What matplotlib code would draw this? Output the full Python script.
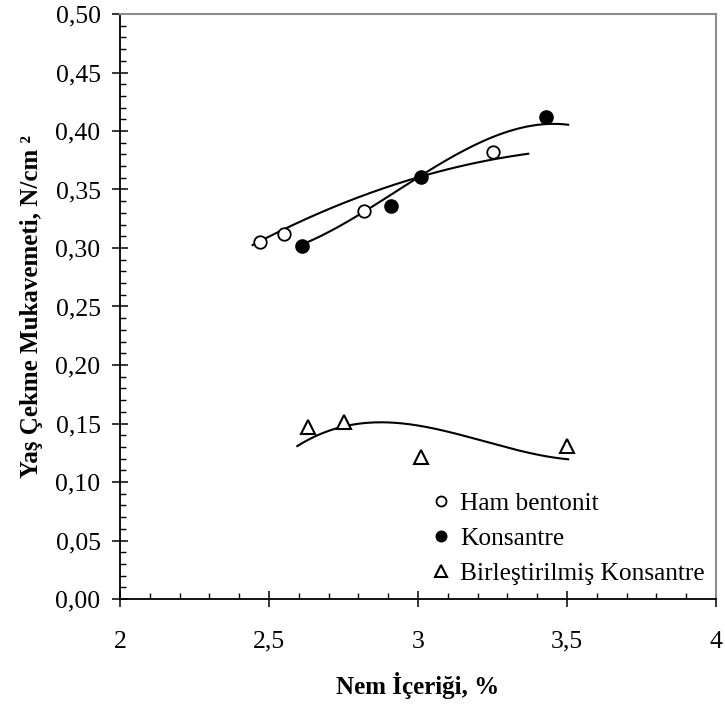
import numpy as np
import matplotlib
matplotlib.use("Agg")
import matplotlib.pyplot as plt
from matplotlib.ticker import MultipleLocator, FuncFormatter

# ---- data ----
ham_x = [2.47, 2.55, 2.82, 3.25]
ham_y = [0.305, 0.312, 0.332, 0.382]
kon_x = [2.61, 2.91, 3.01, 3.43]
kon_y = [0.302, 0.336, 0.361, 0.412]
bir_x = [2.63, 2.75, 3.01, 3.50]
bir_y = [0.147, 0.151, 0.121, 0.131]

# trend-line anchor readings (as seen on the chart)
ham_trend_x = [2.445, 3.00, 3.242, 3.370]
ham_trend_y = [0.3025, 0.3605, 0.375, 0.3807]
kon_trend_x = [2.606, 3.007, 3.242, 3.426, 3.504]
kon_trend_y = [0.3025, 0.3616, 0.3935, 0.4065, 0.405]
bir_trend_x = [2.595, 2.682, 2.817, 3.012, 3.25, 3.504]
bir_trend_y = [0.1296, 0.1432, 0.1518, 0.1447, 0.1347, 0.119]

labels = ["Ham bentonit", "Konsantre", "Birleştirilmiş Konsantre"]
xlabel = "Nem İçeriği, %"
ylabel = "Yaş Çekme Mukavemeti, N/cm ²"

plt.rcParams['font.family'] = ['Liberation Serif', 'DejaVu Serif']

fig = plt.figure(figsize=(7.25, 7.06), dpi=100)
ax = fig.add_axes([120/725, 1-599/706, (716-120)/725, (599-14)/706])

def trend(xs, ys, deg):
    c = np.polyfit(xs, ys, deg)
    xx = np.linspace(min(xs), max(xs), 200)
    return xx, np.polyval(c, xx)

for tx, ty, deg in [(ham_trend_x, ham_trend_y, 2), (kon_trend_x, kon_trend_y, 3),
                    (bir_trend_x, bir_trend_y, 3)]:
    xx, yy = trend(tx, ty, deg)
    ax.plot(xx, yy, color='black', lw=1.5, zorder=2)

ax.plot(ham_x, ham_y, 'o', ms=9, mfc='white', mec='black', mew=1.3, ls='none', label=labels[0], zorder=3)
ax.plot(kon_x, kon_y, 'o', ms=9.5, mfc='black', mec='black', mew=1.0, ls='none', label=labels[1], zorder=3)
ax.plot(bir_x, bir_y, '^', ms=10, mfc='white', mec='black', mew=1.5, ls='none', label=labels[2], zorder=3)

ax.set_xlim(2, 4)
ax.set_ylim(0, 0.5)
ax.xaxis.set_major_locator(MultipleLocator(0.5))
ax.xaxis.set_minor_locator(MultipleLocator(0.1))
ax.yaxis.set_major_locator(MultipleLocator(0.05))
ax.yaxis.set_minor_locator(MultipleLocator(0.01))

def fx(v, pos):
    return ('%g' % v).replace('.', ',')
def fy(v, pos):
    return ('%.2f' % v).replace('.', ',')
ax.xaxis.set_major_formatter(FuncFormatter(fx))
ax.yaxis.set_major_formatter(FuncFormatter(fy))

ax.tick_params(axis='both', which='major', direction='inout', length=12, width=1.1,
               labelsize=18.5, colors='black')
ax.tick_params(axis='x', which='major', pad=17)
ax.tick_params(axis='y', which='major', pad=8)
ax.tick_params(axis='both', which='minor', direction='in', length=4, width=1.0)

for s in ['left', 'bottom']:
    ax.spines[s].set_linewidth(1.3)
    ax.spines[s].set_color('black')
for s in ['top', 'right']:
    ax.spines[s].set_linewidth(1.5)
    ax.spines[s].set_color('#8c8c8c')

ax.set_xlabel(xlabel, fontsize=18, fontweight='bold', labelpad=14)
ax.set_ylabel(ylabel, fontsize=18, fontweight='bold', labelpad=9)

leg = ax.legend(loc='center left', bbox_to_anchor=(0.492, 0.103), frameon=False,
                fontsize=18.3, handlelength=0.8, handletextpad=0.35, labelspacing=0.48,
                markerscale=0.8, borderpad=0.2)

fig.savefig('out.png', dpi=100)
